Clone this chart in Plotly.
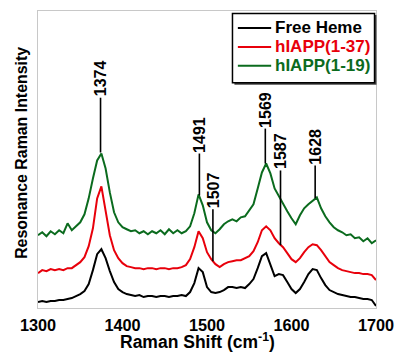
import plotly.graph_objects as go

# Raman shift axis (cm^-1), every 5 cm^-1
shift = list(range(1300, 1701, 5))

free_heme = [6, 7, 6, 7, 7, 8, 8, 9, 10, 12,
             14, 17, 24, 38, 54, 59, 50, 37, 26, 19,
             16, 14, 13, 12, 13, 11, 12, 12, 11, 12,
             12, 11, 12, 12, 13, 12, 16, 25, 40, 36,
             21, 16, 15, 16, 18, 21, 21, 20, 21, 20,
             24, 29, 40, 52, 55, 44, 32, 34, 33, 26,
             19, 15, 19, 26, 34, 39, 38, 30, 23, 18,
             16, 14, 13, 12, 11, 11, 10, 9, 9, 8,
             2]

hiapp_1_37 = [35, 38, 37, 39, 38, 39, 38, 40, 40, 43,
              46, 51, 62, 80, 110, 122, 98, 73, 58, 50,
              45, 42, 41, 40, 40, 39, 40, 40, 39, 40,
              40, 39, 40, 40, 41, 43, 49, 61, 77, 70,
              56, 49, 44, 41, 44, 46, 47, 48, 48, 50,
              52, 57, 66, 78, 82, 78, 70, 65, 61, 55,
              49, 46, 50, 56, 61, 64, 63, 58, 52, 46,
              43, 40, 38, 37, 36, 35, 35, 34, 34, 33,
              28]

hiapp_1_19 = [73, 76, 72, 77, 74, 78, 75, 85, 78, 82,
              86, 94, 110, 130, 148, 155, 140, 116, 96, 86,
              81, 79, 77, 78, 75, 77, 74, 77, 75, 78,
              74, 79, 75, 78, 75, 77, 82, 95, 114, 103,
              86, 78, 75, 79, 84, 87, 89, 87, 91, 92,
              98, 104, 120, 136, 145, 135, 120, 112, 105, 97,
              90, 84, 93, 100, 104, 108, 111, 100, 92, 86,
              81, 78, 76, 73, 74, 70, 71, 67, 70, 65,
              68]

# Peak markers
peak_pos = [1374, 1491, 1507, 1569, 1587, 1628]
peak_labels = ["1374", "1491", "1507", "1569", "1587", "1628"]
marker_bottom = [156, 113, 47, 145, 63, 110]
marker_top = [211, 155, 99, 180, 138, 143]

series_names = ["Free Heme", "hIAPP(1-37)", "hIAPP(1-19)"]
series_colors = ["#000000", "#e8000b", "#0b6b1e"]
series_values = [free_heme, hiapp_1_37, hiapp_1_19]

x_ticks = [1300, 1400, 1500, 1600, 1700]

FONT = "Liberation Sans, Arial, sans-serif"

# plot area in pixels
W, H = 404, 353
L, R, T, B = 38, 21, 10, 45
PW, PH = W - L - R, H - T - B


def px(xp):
    return (xp - L) / PW


def py(yp):
    return (H - B - yp) / PH


fig = go.Figure()
for name, color, vals in zip(series_names, series_colors, series_values):
    fig.add_trace(go.Scatter(
        x=shift, y=vals, mode="lines",
        line=dict(color=color, width=2),
        name=name, showlegend=False,
    ))

mx, my = [], []
for p, b, t in zip(peak_pos, marker_bottom, marker_top):
    mx += [p, p, None]
    my += [b, t, None]
fig.add_trace(go.Scatter(x=mx, y=my, mode="lines",
                         line=dict(color="black", width=1.6),
                         showlegend=False, hoverinfo="skip"))

for p, lab, t in zip(peak_pos, peak_labels, marker_top):
    fig.add_annotation(x=p, y=t, text="<b>%s</b>" % lab, textangle=-90,
                       showarrow=False, xanchor="center", yanchor="bottom",
                       borderpad=0, font=dict(family=FONT, size=16, color="black"))

# legend box (drawn manually to match the compact row spacing)
shapes = [
    dict(type="rect", xref="paper", yref="paper",
         x0=px(238.5), x1=px(383.5), y0=py(84), y1=py(14),
         fillcolor="#444444", line=dict(width=0), layer="above"),
    dict(type="rect", xref="paper", yref="paper",
         x0=px(236.5), x1=px(381.5), y0=py(82), y1=py(12.5),
         fillcolor="white", line=dict(color="black", width=1.5), layer="above"),
]
row_y = [27, 46, 65]
for ry, name, color in zip(row_y, series_names, series_colors):
    shapes.append(dict(type="line", xref="paper", yref="paper",
                       x0=px(242), x1=px(276), y0=py(ry), y1=py(ry),
                       line=dict(color=color, width=2), layer="above"))
    fig.add_annotation(xref="paper", yref="paper", x=px(279), y=py(ry),
                       text="<b>%s</b>" % name, showarrow=False,
                       xanchor="left", yanchor="middle", borderpad=0,
                       font=dict(family=FONT, size=17, color=color))

# axis titles
fig.add_annotation(xref="paper", yref="paper", x=px(201), y=py(341),
                   text="<b>Raman Shift (cm<sup>-1</sup>)</b>", showarrow=False,
                   xanchor="center", yanchor="middle", borderpad=0,
                   font=dict(family=FONT, size=17.5, color="black"))
fig.add_annotation(xref="paper", yref="paper", x=px(21), y=py(152),
                   text="<b>Resonance Raman Intensity</b>", showarrow=False,
                   textangle=-90, xanchor="center", yanchor="middle", borderpad=0,
                   font=dict(family=FONT, size=15.9, color="black"))

fig.update_layout(
    width=W, height=H,
    margin=dict(l=L, r=R, t=T, b=B),
    paper_bgcolor="white", plot_bgcolor="white",
    font=dict(family=FONT, color="black"),
    showlegend=False,
    shapes=shapes,
)
fig.update_xaxes(range=[1300, 1700], tickvals=x_ticks,
                 ticktext=["<b>%d</b>" % v for v in x_ticks],
                 tickfont=dict(family=FONT, size=16.3, color="black"),
                 ticklabelstandoff=2,
                 showgrid=False, zeroline=False, showline=True, linecolor="#c8c8c8",
                 linewidth=1, mirror=True, ticks="")
fig.update_yaxes(range=[0, 298], showticklabels=False, showgrid=False, zeroline=False,
                 showline=True, linecolor="#c8c8c8", linewidth=1, mirror=True, ticks="")

fig.write_html("out.html")
